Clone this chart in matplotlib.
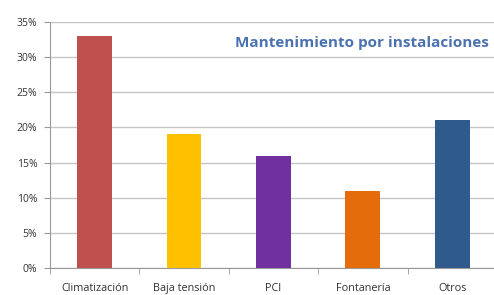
import matplotlib
matplotlib.use("Agg")
import matplotlib.pyplot as plt
from matplotlib.ticker import FuncFormatter

categories = ["Climatización", "Baja tensión", "PCI", "Fontanería", "Otros"]
values = [33, 19, 16, 11, 21]
colors = ["#C0504D", "#FFC000", "#7030A0", "#E46C0A", "#2E5A8C"]
title = "Mantenimiento por instalaciones"

plt.rcParams["font.family"] = ["Open Sans", "DejaVu Sans"]

fig = plt.figure(figsize=(4.94, 2.95), dpi=100)
ax = fig.add_axes([0.101, 0.092, 0.905, 0.833])

x = range(len(categories))
ax.bar(x, values, width=0.39, color=colors, zorder=3)

ax.set_xlim(-0.5, len(categories) - 0.5)
ax.set_ylim(0, 35)
ax.set_yticks(range(0, 36, 5))
ax.yaxis.set_major_formatter(FuncFormatter(lambda v, _: f"{int(v)}%"))
ax.grid(axis="y", color="#C4C4C4", lw=1.0, zorder=0)

ax.set_xticks(list(x))
ax.set_xticklabels(categories)
ax.set_xticks([i + 0.5 for i in range(-1, len(categories))], minor=True)
ax.tick_params(axis="x", which="major", length=0, pad=11, labelsize=7.8, colors="#333333")
ax.tick_params(axis="x", which="minor", length=4, color="#999999")
ax.tick_params(axis="y", length=4, pad=5, color="#999999", labelsize=7.5, labelcolor="#333333")

for side in ["top", "right"]:
    ax.spines[side].set_visible(False)
ax.spines["left"].set_color("#999999")
ax.spines["bottom"].set_color("#999999")

ax.text(0.982, 0.915, title, transform=ax.transAxes, ha="right", va="center",
        fontsize=11, fontweight="bold", color="#4A72B0")

fig.savefig("out.png", dpi=100)
